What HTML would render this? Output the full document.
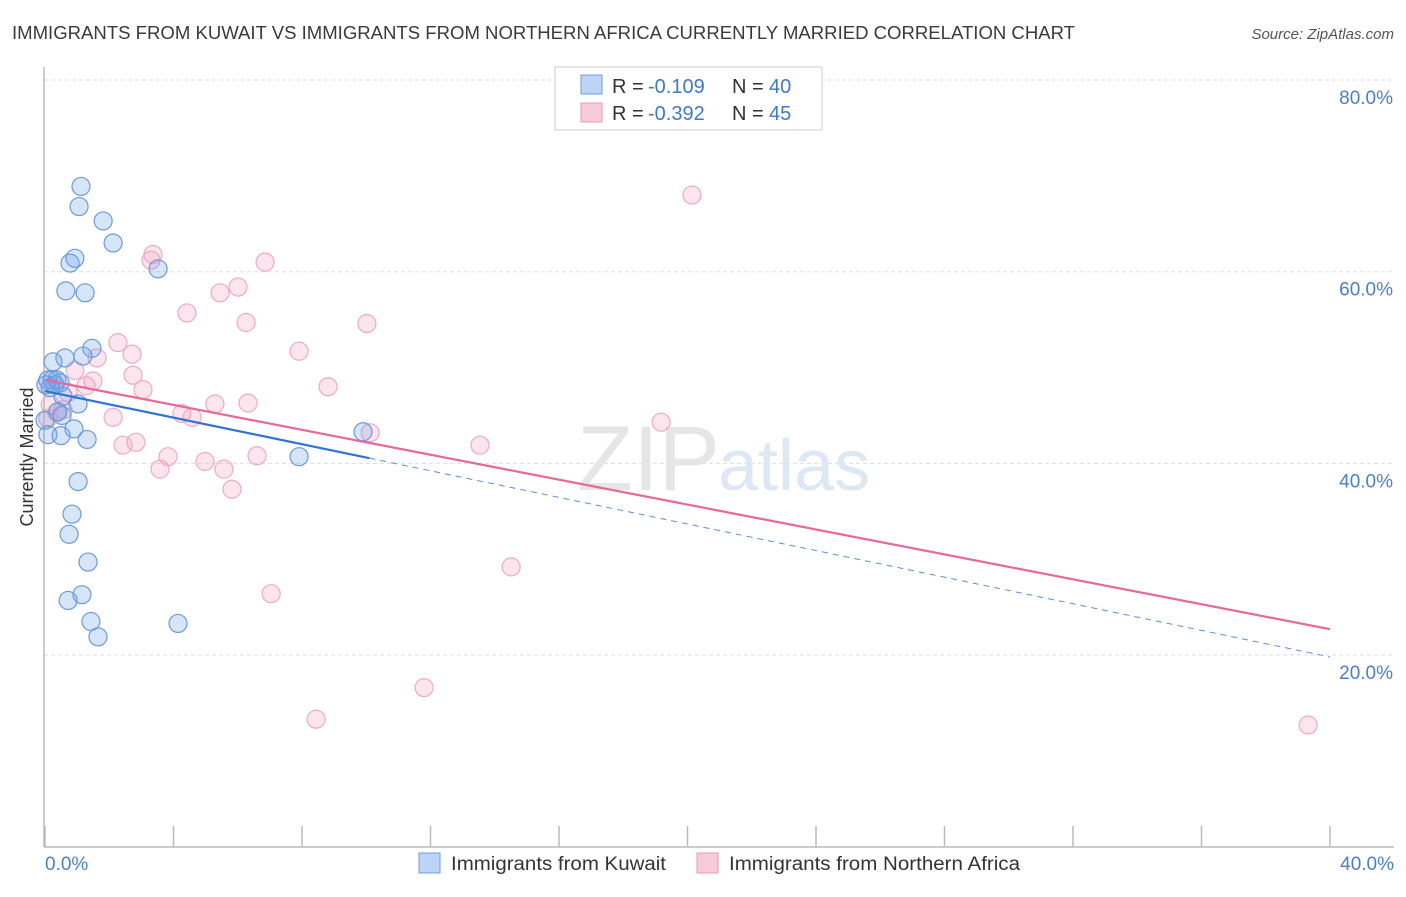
<!DOCTYPE html>
<html><head><meta charset="utf-8"><style>
body{margin:0;background:#fff;font-family:"Liberation Sans",sans-serif}
svg text{font-family:"Liberation Sans",sans-serif}
</style></head><body>
<svg width="1406" height="892" xmlns="http://www.w3.org/2000/svg">
<text x="12" y="39" font-size="18" fill="#3a3a3a" textLength="1063" lengthAdjust="spacingAndGlyphs">IMMIGRANTS FROM KUWAIT VS IMMIGRANTS FROM NORTHERN AFRICA CURRENTLY MARRIED CORRELATION CHART</text>
<text x="1394" y="39" font-size="15" fill="#555" text-anchor="end" font-style="italic">Source: ZipAtlas.com</text>
<g id="grid"></g>
<text x="720" y="490" font-size="92" fill="#e6e6e6" text-anchor="end" font-family="Liberation Serif">ZIP</text>
<text x="718" y="490" font-size="72" fill="#dde8f5">atlas</text>
<line x1="44" y1="67" x2="44" y2="847" stroke="#bbb" stroke-width="1.5"/>
<line x1="44" y1="847" x2="1394" y2="847" stroke="#bbb" stroke-width="1.5"/>
<g id="xticks"></g>
<g id="ylabels"></g>
<text x="33" y="457" font-size="18" fill="#333" text-anchor="middle" transform="rotate(-90 33 457)">Currently Married</text>
<text x="45" y="870" font-size="19" fill="#4a7fd0">0.0%</text>
<text x="1394" y="870" font-size="19" fill="#4a7fd0" text-anchor="end">40.0%</text>
<g id="pts"></g>
<g id="lines"></g>
<g>
<rect x="555" y="67" width="267" height="63" fill="#fff" stroke="#ccc"/>
<rect x="581" y="75" width="21" height="19" fill="#bcd4f5" stroke="#6d9ee0"/>
<rect x="581" y="103" width="21" height="19" fill="#f9cad8" stroke="#e998b5"/>
<g font-size="20">
<text x="612" y="93" fill="#333">R =</text><text x="648" y="93" fill="#3f78d0">-0.109</text>
<text x="732" y="93" fill="#333">N =</text><text x="769" y="93" fill="#3f78d0">40</text></g>
<g font-size="20">
<text x="612" y="120" fill="#333">R =</text><text x="648" y="120" fill="#3f78d0">-0.392</text>
<text x="732" y="120" fill="#333">N =</text><text x="769" y="120" fill="#3f78d0">45</text></g>
</g>
<g>
<rect x="419" y="853" width="21" height="20" fill="#bcd4f5" stroke="#6d9ee0"/>
<text x="451" y="870" font-size="19" fill="#333" textLength="215" lengthAdjust="spacingAndGlyphs">Immigrants from Kuwait</text>
<rect x="697" y="853" width="21" height="20" fill="#f9cad8" stroke="#e998b5"/>
<text x="729" y="870" font-size="19" fill="#333" textLength="291" lengthAdjust="spacingAndGlyphs">Immigrants from Northern Africa</text>
</g>
</svg>
<script>
const kuwaitX=[1.12,1.06,1.81,2.12,0.93,0.78,3.52,0.65,1.25,1.46,0.62,1.18,0.25,0.22,0.47,0.31,0.09,0.03,0.56,1.03,0.53,0.90,0.50,0.09,1.31,7.91,9.90,1.03,0.84,0.75,1.34,1.15,0.72,1.43,1.65,4.14,0.37,0.16,0.40,0.0];
const kuwaitY=[68.9,66.8,65.3,63.0,61.4,60.9,60.3,58.0,57.8,52.0,51.0,51.2,50.6,48.7,48.4,48.2,48.7,48.2,47.0,46.2,45.0,43.6,42.9,43.0,42.5,40.7,43.3,38.1,34.7,32.6,29.7,26.3,25.7,23.5,21.9,23.3,48.7,47.9,45.4,44.5];
const nafricaX=[20.14,3.36,3.30,6.85,6.01,5.45,4.42,6.26,10.02,2.27,2.71,7.91,1.62,2.74,1.49,0.93,1.28,8.81,3.05,0.72,5.29,6.32,2.12,4.26,4.58,0.56,0.37,19.18,10.12,2.83,2.43,13.54,3.83,6.60,4.98,5.57,3.58,5.82,14.51,7.04,11.80,8.44,39.32,0.16,0.09];
const nafricaY=[68.0,61.8,61.2,61.0,58.4,57.8,55.7,54.7,54.6,52.6,51.4,51.7,51.0,49.2,48.6,49.7,48.1,48.0,47.7,47.4,46.2,46.3,44.8,45.2,44.8,45.6,45.3,44.3,43.2,42.2,41.9,41.9,40.7,40.8,40.2,39.4,39.4,37.3,29.2,26.4,16.6,13.3,12.7,46.1,44.7];
const yTicks=[20,40,60,80];
const xTicks=[0,4,8,12,16,20,24,28,32,36,40];
const kuwaitTrend=[47.55,19.8];
const nafricaTrend=[48.7,22.7];
const kuwaitSolidEnd=10.1;
const NS='http://www.w3.org/2000/svg';
const sx=v=>45+v*32.125, sy=v=>846.7-v*9.583;
function mk(t,a,p){const e=document.createElementNS(NS,t);for(const k in a)e.setAttribute(k,a[k]);p.appendChild(e);return e;}
const grid=document.getElementById('grid'),yl=document.getElementById('ylabels'),xt=document.getElementById('xticks');
yTicks.forEach(v=>{
 const l=mk('line',{x1:44,x2:1394,y1:sy(v),y2:sy(v),stroke:'#ddd','stroke-dasharray':'4,3'},grid);
 
 
 const t=mk('text',{x:1393,y:sy(v)+24,'font-size':19,fill:'#4a7fd0','text-anchor':'end'},yl);
 t.textContent=v.toFixed(1)+'%';
 
 
});
xTicks.forEach(v=>{
 const l=mk('line',{x1:sx(v),x2:sx(v),y1:826,y2:847,stroke:'#bbb','stroke-width':1.5},xt);
 
 
});
const pts=document.getElementById('pts');
nafricaX.forEach((x,i)=>{
 const c=mk('circle',{cx:sx(x),cy:sy(nafricaY[i]),r:9,fill:'rgba(244,160,190,0.28)',stroke:'#eeaac3','stroke-width':1.2},pts);
 
 
});
kuwaitX.forEach((x,i)=>{
 const c=mk('circle',{cx:sx(x),cy:sy(kuwaitY[i]),r:9,fill:'rgba(110,160,235,0.28)',stroke:'#6b9ae0','stroke-width':1.2},pts);
 
 
});
const lines=document.getElementById('lines');
const kt=x=>kuwaitTrend[0]+(kuwaitTrend[1]-kuwaitTrend[0])*x/40;
let l1=mk('line',{x1:sx(0),y1:sy(kuwaitTrend[0]),x2:sx(kuwaitSolidEnd),y2:sy(kt(kuwaitSolidEnd)),stroke:'#2f73d8','stroke-width':2.2},lines);


let l2=mk('line',{x1:sx(kuwaitSolidEnd),y1:sy(kt(kuwaitSolidEnd)),x2:sx(40),y2:sy(kuwaitTrend[1]),stroke:'#5b8fdc','stroke-width':1,'stroke-dasharray':'6,5'},lines);


let l3=mk('line',{x1:sx(0),y1:sy(nafricaTrend[0]),x2:sx(40),y2:sy(nafricaTrend[1]),stroke:'#e8689a','stroke-width':2.2},lines);


</script>
</body></html>
